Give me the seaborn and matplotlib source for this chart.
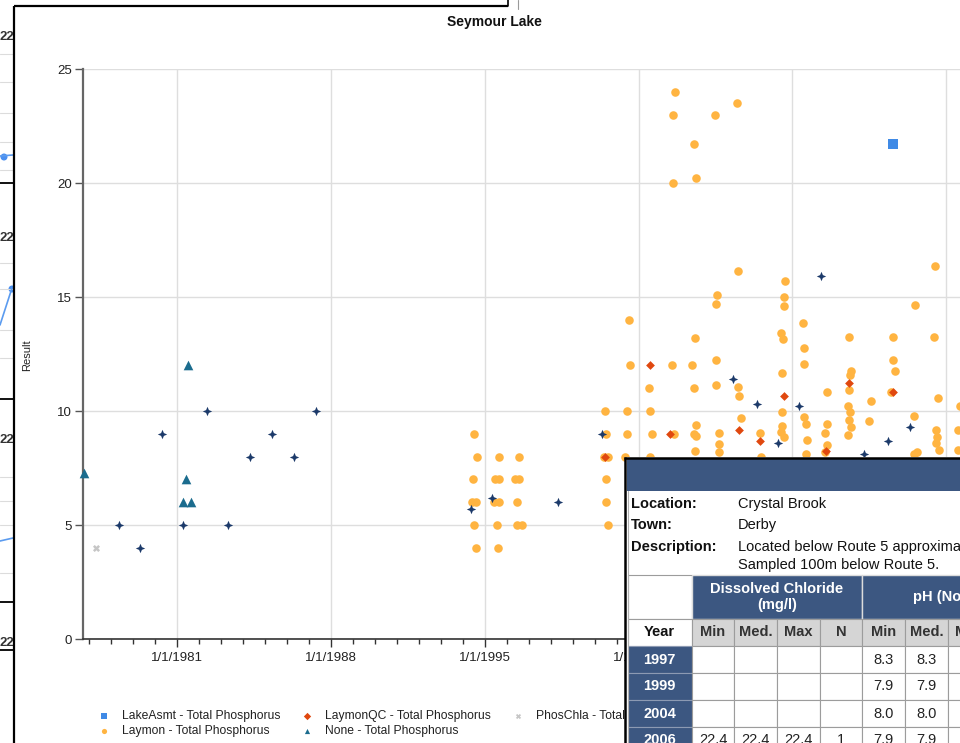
import matplotlib
matplotlib.use("Agg")
import matplotlib.pyplot as plt
import matplotlib.dates as mdates
from matplotlib.patches import Rectangle, Circle
from matplotlib.path import Path
from matplotlib.ticker import FuncFormatter
from matplotlib.transforms import Bbox, TransformedBbox
import seaborn as sns
import pandas as pd

# ---------------------------------------------------------------- data
chart_title = "Seymour Lake"
y_label = "Result"

lakeasmt_dates = ["2013-07-27"]
lakeasmt_vals = [21.7]

phoschla_dates = ["1977-04-24"]
phoschla_vals = [4]

none_dates = ["1976-10-01", "1981-07-05", "1981-05-30", "1981-04-05", "1981-08-25"]
none_vals = [7.3, 12, 7, 6, 6]

other_dates = ["1978-05-15", "1979-05-01", "1980-05-01", "1981-04-05", "1982-05-08",
               "1983-05-05", "1984-04-27", "1985-05-05", "1986-04-24", "1987-04-24",
               "1994-05-15", "1995-04-27", "1998-04-27", "2000-05-01", "2006-04-27",
               "2007-05-19", "2008-05-05", "2009-04-27", "2010-04-16", "2012-04-12",
               "2013-05-12", "2014-05-12"]
other_vals = [5, 4, 9, 5, 10, 5, 8, 9, 8, 10,
              5.7, 6.2, 6, 9, 11.4, 10.3, 8.6, 10.2, 15.9, 8.1, 8.7, 9.3]

laymonqc_dates = ["2000-06-25", "2002-07-12", "2003-06-16", "2006-08-03", "2007-07-16",
                  "2008-08-11", "2010-07-09", "2011-07-27", "2013-07-27"]
laymonqc_vals = [8, 12, 9, 9.15, 8.7, 10.65, 8.25, 11.25, 10.85]

laymon_dates = [
    "1994-07-02", "1994-08-22", "1995-08-22", "1996-07-20", "1994-06-21", "1995-06-29",
    "1995-09-02", "1996-05-19", "1996-07-31", "1994-05-30", "1994-08-07", "1995-06-07",
    "1995-09-02", "1996-06-21", "1994-07-13", "1995-07-31", "1996-06-21", "1996-09-09",
    "1994-08-11", "1995-08-07",
    "2000-06-21", "2001-06-21", "2000-07-05", "2001-06-21", "2000-05-30", "2000-08-07",
    "2001-05-22", "2000-07-13", "2000-07-13", "2000-08-03", "2001-07-27", "2001-08-14",
    "2002-07-09", "2002-07-02", "2002-08-11", "2002-07-13",
    "2003-08-22", "2003-08-03", "2003-07-23", "2003-07-13", "2003-08-14",
    "2004-07-13", "2004-08-14", "2004-07-20", "2004-06-14", "2004-07-09", "2004-08-11",
    "2004-07-09", "2004-08-11", "2004-07-20",
    "2005-07-02", "2005-07-23", "2005-07-13", "2005-07-13", "2005-07-09", "2005-08-22",
    "2005-08-22", "2005-08-22",
    "2006-06-29", "2006-07-20", "2006-07-09", "2006-07-27", "2006-09-02",
    "2007-07-09", "2007-07-31",
    "2008-08-29", "2008-08-18", "2008-08-18", "2008-06-25", "2008-07-31", "2008-07-05",
    "2008-07-13", "2008-07-20", "2008-06-29", "2008-08-11",
    "2009-06-29", "2009-07-13", "2009-07-05", "2009-07-20", "2009-08-14", "2009-08-29",
    "2009-08-07",
    "2010-07-27", "2010-08-07", "2010-07-05", "2010-08-03", "2010-07-05",
    "2011-08-03", "2011-09-05", "2011-08-18", "2011-07-27", "2011-07-13", "2011-08-14",
    "2011-07-23", "2011-09-05", "2011-07-13",
    "2012-08-03", "2012-07-02",
    "2013-08-07", "2013-08-07", "2013-09-09", "2013-07-05",
    "2014-08-03", "2014-07-16", "2014-09-02", "2014-07-13",
    "2015-07-02", "2015-06-21", "2015-08-14", "2015-07-23", "2015-08-03", "2015-07-23",
    "2015-09-02",
    "2016-07-13", "2016-07-13", "2016-08-22",
]
laymon_vals = [
    9, 8, 8, 8, 7, 7, 7, 7, 7, 6, 6, 6, 6, 6, 5, 5, 5, 5, 4, 4,
    10, 10, 9, 9, 8, 8, 8, 7, 6, 5, 14, 12,
    10, 11, 9, 8,
    24, 23, 20, 12, 9,
    21.7, 20.2, 13.2, 12, 11, 9.4, 9, 8.9, 8.25,
    23, 15.1, 14.7, 12.25, 11.15, 9.05, 8.55, 8.2,
    23.5, 16.15, 11.05, 10.65, 9.7,
    9.05, 8.0,
    15.7, 15.0, 14.6, 13.4, 13.15, 11.65, 9.95, 9.35, 9.1, 8.85,
    13.85, 12.75, 12.05, 9.75, 9.45, 8.75, 8.1,
    10.85, 9.45, 9.05, 8.5, 8.2,
    13.25, 11.75, 11.6, 10.9, 10.2, 9.95, 9.6, 9.3, 8.95,
    10.45, 9.55,
    13.25, 12.25, 11.75, 10.85,
    14.65, 9.8, 8.2, 8.1,
    16.35, 13.25, 10.55, 9.15, 8.85, 8.6, 8.3,
    9.15, 8.3, 10.2,
]

legend_labels = ["LakeAsmt - Total Phosphorus", "Laymon - Total Phosphorus",
                 "LaymonQC - Total Phosphorus", "None - Total Phosphorus",
                 "PhosChla - Total Phosphorus"]

# station summary panel
info_labels = ["Location:", "Town:", "Description:"]
info_values = ["Crystal Brook", "Derby", "Located below Route 5 approximately"]
info_extra = "Sampled 100m below Route 5."
param_headers = ["Dissolved Chloride\n(mg/l)", "pH (None)"]
stat_headers = ["Min", "Med.", "Max", "N", "Min", "Med.", "Max", "N"]
table_years = ["1997", "1999", "2004", "2006"]
table_rows = [
    ["", "", "", "", "8.3", "8.3", "8.3", "1"],
    ["", "", "", "", "7.9", "7.9", "7.9", "1"],
    ["", "", "", "", "8.0", "8.0", "8.0", "1"],
    ["22.4", "22.4", "22.4", "1", "7.9", "7.9", "7.9", "1"],
]

# ---------------------------------------------------------------- style
sns.set_theme(style="ticks")
plt.rcParams["font.family"] = ["Liberation Sans", "DejaVu Sans"]

W, H = 960, 743
fig = plt.figure(figsize=(W / 100, H / 100), dpi=100)
fig.patch.set_facecolor("white")


def fx(px):
    return px / W


def fy(py):
    return 1 - py / H


ax = fig.add_axes([fx(83), fy(639), (1100 - 83) / W, (639 - 69) / H])
ax.set_facecolor("white")

star = Path.unit_regular_star(4, 0.42)

series = [
    ("LakeAsmt - Total Phosphorus", lakeasmt_dates, lakeasmt_vals, "s", "#3f8ae6", 46, 5),
    ("Laymon - Total Phosphorus", laymon_dates, laymon_vals, "o", "#ffb441", 38, 2),
    ("LaymonQC - Total Phosphorus", laymonqc_dates, laymonqc_vals, "D", "#e0480f", 20, 3),
    ("None - Total Phosphorus", none_dates, none_vals, "^", "#1b6c8e", 48, 4),
    ("PhosChla - Total Phosphorus", phoschla_dates, phoschla_vals, "X", "#c6c6c6", 26, 4),
    ("_other", other_dates, other_vals, star, "#1c3a6a", 46, 4),
]

handles = {}
for name, dates, vals, marker, color, size, z in series:
    df = pd.DataFrame({"date": pd.to_datetime(dates), "value": vals})
    sns.scatterplot(data=df, x="date", y="value", marker=marker, color=color, s=size,
                    linewidth=0, ax=ax, legend=False, zorder=z, clip_on=False)
    handles[name] = ax.collections[-1]

ax.set_xlim(pd.Timestamp("1976-09-20"), pd.Timestamp("2023-01-01"))
ax.set_ylim(0, 25)
ax.set_yticks([0, 5, 10, 15, 20, 25])
ax.xaxis.set_major_locator(mdates.YearLocator(7))
ax.xaxis.set_minor_locator(mdates.YearLocator(1))
ax.xaxis.set_major_formatter(
    FuncFormatter(lambda v, pos: (lambda d: f"{d.month}/{d.day}/{d.year}")(mdates.num2date(v))))
ax.set_xlabel("")
ax.set_ylabel("")

ax.grid(True, which="major", color="#dedede", linewidth=1.0)
ax.set_axisbelow(True)
for side in ("top", "right"):
    ax.spines[side].set_visible(False)
ax.spines["left"].set_color("#666666")
ax.spines["left"].set_linewidth(1.6)
ax.spines["bottom"].set_color("#333333")
ax.spines["bottom"].set_linewidth(1.2)
ax.tick_params(axis="y", length=6, width=1, color="#555555", pad=2,
               labelsize=9.5, labelcolor="#222222")
ax.tick_params(axis="x", which="major", length=5.5, width=1, color="#333333", pad=4,
               labelsize=9.5, labelcolor="#222222")
ax.tick_params(axis="x", which="minor", length=3.5, width=1, color="#333333")

fig.text(fx(494), fy(22), chart_title, ha="center", va="center",
         fontsize=10, fontweight="bold", color="#111111")
fig.text(fx(27), fy(355), y_label, ha="center", va="center", rotation=90,
         fontsize=8, color="#222222")

leg = ax.legend([handles[n] for n in legend_labels], legend_labels, ncol=3,
                loc="upper left", bbox_to_anchor=(fx(99), fy(710)),
                bbox_transform=fig.transFigure, frameon=False, fontsize=8.7,
                handlelength=0.8, handletextpad=1.1, columnspacing=1.8,
                labelspacing=0.28, borderpad=0, borderaxespad=0)
for h in leg.legend_handles:
    h.set_sizes([14])
for t in leg.get_texts():
    t.set_color("#222222")

# ---------------------------------------------------------------- page overlay
ov = fig.add_axes([0, 0, 1, 1], zorder=10)
ov.set_xlim(0, W)
ov.set_ylim(H, 0)
ov.set_axis_off()
ov.patch.set_visible(False)

# neighbouring page content to the left of the chart panel
strip = TransformedBbox(Bbox([[0, 0], [13, H]]), ov.transData)
for yy in [54, 82, 113, 142, 170, 263, 289, 330, 358, 477, 501, 525, 573]:
    ov.plot([0, 13], [yy, yy], color="#dcdcdc", lw=0.8)
for yy in [183, 399, 602, 650]:
    ov.plot([0, 13], [yy, yy], color="#111111", lw=1.4)
for yy in [37, 238, 440, 643]:
    t = ov.text(-1, yy, "22", fontsize=9.5, fontweight="bold", color="#333333",
                ha="left", va="center")
    t.set_clip_box(strip)
    t.set_clip_on(True)
for xs, ys in [([0, 13], [156, 155]), ([0, 12], [325, 288]), ([0, 13], [541, 538])]:
    ln, = ov.plot(xs, ys, color="#5b9bef", lw=1.2)
    ln.set_clip_box(strip)
for cx, cy in [(4, 157), (12, 289)]:
    c = Circle((cx, cy), 2.8, color="#4a8ff0")
    ov.add_patch(c)
    c.set_clip_box(strip)

# chart panel frame
ov.plot([14, 14], [6, H], color="#000000", lw=1.6, solid_capstyle="butt")
ov.plot([14, 508], [6, 6], color="#000000", lw=1.6, solid_capstyle="butt")
ov.plot([508, 508], [0, 6], color="#000000", lw=1.2)
ov.plot([518, 518], [0, 9], color="#9a9a9a", lw=0.8)

# station summary popup
BLUE = "#3c5781"
GRID = "#9c9c9c"
ov.add_patch(Rectangle((625, 457), 340, 290, facecolor="white", edgecolor="none"))
ov.add_patch(Rectangle((627, 459), 340, 32, facecolor=BLUE, edgecolor="none"))
ov.plot([625, 625], [456.5, H], color="#000000", lw=1.8, solid_capstyle="butt")
ov.plot([624, W], [457.5, 457.5], color="#000000", lw=1.8, solid_capstyle="butt")
ov.plot([627.5, 627.5], [491, H], color="#b0b0b0", lw=0.8)

info_rows_y = [504, 525, 547]
for lab, val, yy in zip(info_labels, info_values, info_rows_y):
    ov.text(631, yy, lab, fontsize=10.5, fontweight="bold", color="#111111",
            ha="left", va="center")
    ov.text(738, yy, val, fontsize=10.5, color="#111111", ha="left", va="center")
ov.text(738, 565, info_extra, fontsize=10.5, color="#111111", ha="left", va="center")

col_edges = [627.5, 691.7, 734.3, 776.7, 820, 862.3, 905, 948.3, 991, 1033.5]
row_edges = [575, 619, 646, 673, 700, 727, 754]
TXT = dict(fontsize=10.5, ha="center", va="center")

# parameter header row
ov.add_patch(Rectangle((col_edges[0], row_edges[0]), col_edges[1] - col_edges[0],
                       row_edges[1] - row_edges[0], facecolor="white", edgecolor=GRID, lw=0.8))
for i, head in enumerate(param_headers):
    x0, x1 = col_edges[1 + 4 * i], col_edges[5 + 4 * i]
    ov.add_patch(Rectangle((x0, row_edges[0]), x1 - x0, row_edges[1] - row_edges[0],
                           facecolor=BLUE, edgecolor="#dcdcdc", lw=1.0))
    ov.text((x0 + x1) / 2, (row_edges[0] + row_edges[1]) / 2, head, color="white",
            fontweight="bold", linespacing=1.1, **TXT)

# statistic header row
ov.add_patch(Rectangle((col_edges[0], row_edges[1]), col_edges[1] - col_edges[0],
                       row_edges[2] - row_edges[1], facecolor="white", edgecolor=GRID, lw=0.8))
ov.text((col_edges[0] + col_edges[1]) / 2, (row_edges[1] + row_edges[2]) / 2, "Year",
        color="#111111", fontweight="bold", **TXT)
for j, head in enumerate(stat_headers):
    x0, x1 = col_edges[1 + j], col_edges[2 + j]
    ov.add_patch(Rectangle((x0, row_edges[1]), x1 - x0, row_edges[2] - row_edges[1],
                           facecolor="#d5d5d5", edgecolor=GRID, lw=0.8))
    ov.text((x0 + x1) / 2, (row_edges[1] + row_edges[2]) / 2, head, color="#333333",
            fontweight="bold", **TXT)

# yearly rows
for r, (yr, vals) in enumerate(zip(table_years, table_rows)):
    y0, y1 = row_edges[2 + r], row_edges[3 + r]
    ov.add_patch(Rectangle((col_edges[0], y0), col_edges[1] - col_edges[0], y1 - y0,
                           facecolor=BLUE, edgecolor="#8c9ab3", lw=0.8))
    ov.text((col_edges[0] + col_edges[1]) / 2, (y0 + y1) / 2, yr, color="white",
            fontweight="bold", **TXT)
    for j, v in enumerate(vals):
        x0, x1 = col_edges[1 + j], col_edges[2 + j]
        ov.add_patch(Rectangle((x0, y0), x1 - x0, y1 - y0, facecolor="white",
                               edgecolor=GRID, lw=0.8))
        ov.text((x0 + x1) / 2, (y0 + y1) / 2, v, color="#222222", **TXT)

fig.savefig("out.png", dpi=100)
